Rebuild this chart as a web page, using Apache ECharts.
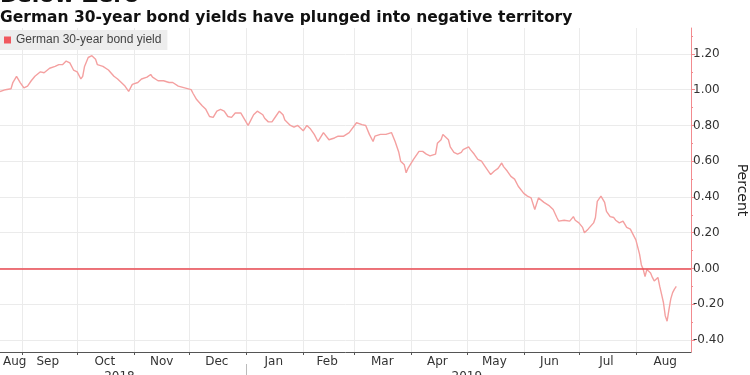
<!DOCTYPE html>
<html>
<head>
<meta charset="utf-8">
<script src="https://cdn.jsdelivr.net/npm/echarts@6.0.0/dist/echarts.min.js"></script>
<style>
  html, body { margin: 0; padding: 0; background: #fff; }
  #chart { width: 750px; height: 375px; }
</style>
</head>
<body>
<div id="chart"></div>
<script>
// German 30-year bond yield (percent)
const dates = [
  "2018-08-20", "2018-08-23", "2018-08-26", "2018-08-27", "2018-08-29", "2018-08-31",
  "2018-09-02", "2018-09-04", "2018-09-06", "2018-09-08", "2018-09-11", "2018-09-13",
  "2018-09-16", "2018-09-19", "2018-09-21", "2018-09-23", "2018-09-25", "2018-09-27",
  "2018-09-29", "2018-10-01", "2018-10-03", "2018-10-04", "2018-10-05", "2018-10-07",
  "2018-10-09", "2018-10-11", "2018-10-12", "2018-10-15", "2018-10-18", "2018-10-21",
  "2018-10-23", "2018-10-25", "2018-10-27", "2018-10-29", "2018-10-31", "2018-11-03",
  "2018-11-05", "2018-11-08", "2018-11-10", "2018-11-11", "2018-11-14", "2018-11-17",
  "2018-11-20", "2018-11-22", "2018-11-25", "2018-11-26", "2018-12-02", "2018-12-03",
  "2018-12-05", "2018-12-08", "2018-12-10", "2018-12-12", "2018-12-14", "2018-12-16",
  "2018-12-18", "2018-12-20", "2018-12-22", "2018-12-24", "2018-12-26", "2018-12-29",
  "2018-12-30", "2019-01-02", "2019-01-03", "2019-01-05", "2019-01-07", "2019-01-10",
  "2019-01-11", "2019-01-13", "2019-01-15", "2019-01-17", "2019-01-19", "2019-01-21",
  "2019-01-22", "2019-01-25", "2019-01-27", "2019-01-29", "2019-02-01", "2019-02-03",
  "2019-02-05", "2019-02-07", "2019-02-09", "2019-02-12", "2019-02-15", "2019-02-18",
  "2019-02-20", "2019-02-23", "2019-02-26", "2019-02-27", "2019-03-02", "2019-03-03",
  "2019-03-05", "2019-03-07", "2019-03-09", "2019-03-11", "2019-03-12", "2019-03-15",
  "2019-03-18", "2019-03-21", "2019-03-23", "2019-03-25", "2019-03-26", "2019-03-28",
  "2019-03-29", "2019-03-30", "2019-04-02", "2019-04-03", "2019-04-05", "2019-04-07",
  "2019-04-09", "2019-04-11", "2019-04-14", "2019-04-15", "2019-04-17", "2019-04-18",
  "2019-04-21", "2019-04-22", "2019-04-24", "2019-04-26", "2019-04-28", "2019-04-29",
  "2019-05-02", "2019-05-03", "2019-05-05", "2019-05-07", "2019-05-09", "2019-05-11",
  "2019-05-14", "2019-05-16", "2019-05-18", "2019-05-20", "2019-05-21", "2019-05-23",
  "2019-05-25", "2019-05-27", "2019-05-29", "2019-06-01", "2019-06-03", "2019-06-05",
  "2019-06-07", "2019-06-09", "2019-06-10", "2019-06-12", "2019-06-15", "2019-06-17",
  "2019-06-19", "2019-06-20", "2019-06-23", "2019-06-26", "2019-06-28", "2019-06-29",
  "2019-07-01", "2019-07-03", "2019-07-04", "2019-07-06", "2019-07-09", "2019-07-10",
  "2019-07-11", "2019-07-13", "2019-07-15", "2019-07-16", "2019-07-18", "2019-07-20",
  "2019-07-21", "2019-07-23", "2019-07-25", "2019-07-27", "2019-07-29", "2019-07-31",
  "2019-08-01", "2019-08-03", "2019-08-04", "2019-08-05", "2019-08-06", "2019-08-07",
  "2019-08-09", "2019-08-10", "2019-08-11", "2019-08-13", "2019-08-14", "2019-08-15",
  "2019-08-16", "2019-08-17", "2019-08-18", "2019-08-19", "2019-08-20", "2019-08-21",
  "2019-08-22", "2019-08-23"
];
const yields = [
  0.99, 1.00, 1.005, 1.04, 1.075, 1.04,
  1.01, 1.02, 1.05, 1.075, 1.10, 1.095,
  1.12, 1.13, 1.14, 1.14, 1.16, 1.15,
  1.11, 1.10, 1.06, 1.075, 1.13, 1.18,
  1.19, 1.17, 1.14, 1.13, 1.11, 1.075,
  1.06, 1.04, 1.02, 0.99, 1.03, 1.04,
  1.06, 1.07, 1.085, 1.07, 1.05, 1.05,
  1.04, 1.04, 1.02, 1.01, 1.00, 0.98,
  0.945, 0.91, 0.89, 0.85, 0.845, 0.88,
  0.89, 0.88, 0.85, 0.845, 0.87, 0.87,
  0.875, 0.80, 0.82, 0.86, 0.88, 0.86,
  0.84, 0.82, 0.82, 0.85, 0.88, 0.86,
  0.83, 0.80, 0.79, 0.80, 0.77, 0.80,
  0.78, 0.75, 0.71, 0.76, 0.72, 0.73,
  0.74, 0.74, 0.76, 0.75, 0.815, 0.82,
  0.805, 0.80, 0.75, 0.71, 0.74, 0.75,
  0.75, 0.76, 0.71, 0.65, 0.60, 0.58,
  0.535, 0.56, 0.61, 0.61, 0.655, 0.655,
  0.64, 0.63, 0.64, 0.70, 0.72, 0.75,
  0.72, 0.68, 0.65, 0.64, 0.65, 0.665,
  0.68, 0.665, 0.64, 0.61, 0.60, 0.57,
  0.525, 0.545, 0.56, 0.59, 0.57, 0.545,
  0.515, 0.50, 0.46, 0.42, 0.405, 0.395,
  0.33, 0.395, 0.385, 0.37, 0.35, 0.33,
  0.285, 0.265, 0.27, 0.265, 0.29, 0.27,
  0.255, 0.23, 0.20, 0.22, 0.255, 0.285,
  0.375, 0.405, 0.37, 0.32, 0.29, 0.285,
  0.27, 0.255, 0.265, 0.23, 0.22, 0.18,
  0.16, 0.08, 0.02, -0.005, -0.045, -0.005,
  -0.025, -0.05, -0.07, -0.05, -0.10, -0.145,
  -0.19, -0.265, -0.295, -0.23, -0.17, -0.135,
  -0.115, -0.10
];

const yTicks = [-0.4, -0.2, 0, 0.2, 0.4, 0.6, 0.8, 1.0, 1.2];
const yMinorTicks = [-0.3, -0.1, 0.1, 0.3, 0.5, 0.7, 0.9, 1.1, 1.3];
const zeroLine = [0];
const monthStarts = [
  "2018-09-01", "2018-10-01", "2018-11-01", "2018-12-01", "2019-01-01", "2019-02-01",
  "2019-03-01", "2019-04-01", "2019-05-01", "2019-06-01", "2019-07-01", "2019-08-01"
];
const monthLabelDates = [
  "2018-08-28", "2018-09-15", "2018-10-16", "2018-11-16", "2018-12-16", "2019-01-16",
  "2019-02-14", "2019-03-16", "2019-04-15", "2019-05-16", "2019-06-15", "2019-07-16",
  "2019-08-17"
];
const monthNames = ["Jan", "Feb", "Mar", "Apr", "May", "Jun", "Jul", "Aug", "Sep", "Oct", "Nov", "Dec"];
const yearLabelDates = ["2018-10-24", "2019-05-01"];
const yearBreaks = ["2019-01-01"];

// dates -> local midnight timestamps, x axis is a plain value axis of timestamps
const ts = s => {
  const p = s.split("-").map(Number);
  return new Date(p[0], p[1] - 1, p[2]).getTime();
};
const font = "DejaVu Sans";

let chart = echarts.init(document.getElementById("chart"));

let option = {
  animation: false,
  backgroundColor: "#fff",
  title: [
    {
      text: "Below Zero",
      left: 0,
      top: -15,
      padding: 0,
      textStyle: { fontFamily: font, fontSize: 22, fontWeight: "bold", color: "#111" }
    },
    {
      text: "German 30-year bond yields have plunged into negative territory",
      left: 0,
      top: 10,
      padding: 0,
      textStyle: { fontFamily: font, fontSize: 15.5, fontWeight: "bold", color: "#111" }
    }
  ],
  legend: {
    left: 0,
    top: 30,
    icon: "rect",
    itemWidth: 7,
    itemHeight: 7,
    itemGap: 4,
    padding: [4, 6, 4, 4],
    backgroundColor: "#ededed",
    textStyle: { fontFamily: "Liberation Sans", fontSize: 12, color: "#444" },
    data: ["German 30-year bond yield"]
  },
  grid: { left: 0, right: 59, top: 28, bottom: 23, outerBoundsMode: "none" },
  xAxis: [
    {
      type: "value",
      min: ts("2018-08-20"),
      max: ts("2019-08-31"),
      axisLine: { onZero: false, lineStyle: { color: "#555" } },
      axisTick: { customValues: monthStarts.map(ts), length: 3, lineStyle: { color: "#555" } },
      axisLabel: {
        customValues: monthLabelDates.map(ts),
        formatter: v => monthNames[new Date(v).getMonth()],
        fontFamily: font,
        fontSize: 12,
        color: "#333",
        margin: 4
      },
      splitLine: { show: true, lineStyle: { color: "#ebebeb" } }
    },
    {
      type: "value",
      position: "bottom",
      offset: 12,
      min: ts("2018-08-20"),
      max: ts("2019-08-31"),
      axisLine: { show: false, onZero: false },
      axisTick: { show: true, customValues: yearBreaks.map(ts), length: 14, lineStyle: { color: "#bbb" } },
      axisLabel: {
        customValues: yearLabelDates.map(ts),
        formatter: v => String(new Date(v).getFullYear()),
        fontFamily: font,
        fontSize: 12,
        color: "#333",
        margin: 7
      },
      splitLine: { show: false }
    }
  ],
  yAxis: [
    {
      type: "value",
      position: "right",
      min: -0.467,
      max: 1.345,
      name: "Percent",
      nameLocation: "middle",
      nameRotate: -90,
      nameGap: 41,
      nameTextStyle: { fontFamily: font, fontSize: 14, color: "#222" },
      axisLine: { show: true, onZero: false, lineStyle: { color: "#f28b8f" } },
      axisTick: { show: true, customValues: yTicks, length: 4, lineStyle: { color: "#f28b8f" } },
      axisLabel: {
        customValues: yTicks,
        formatter: v => v.toFixed(2),
        fontFamily: font,
        fontSize: 12,
        color: "#333",
        margin: 2
      },
      splitLine: { show: true, lineStyle: { color: "#ebebeb" } }
    },
    {
      type: "value",
      position: "right",
      min: -0.467,
      max: 1.345,
      axisLine: { show: false, onZero: false },
      axisTick: { show: true, customValues: yMinorTicks, length: 2, lineStyle: { color: "#f28b8f" } },
      axisLabel: { show: false },
      splitLine: { show: false }
    }
  ],
  series: [
    {
      name: "German 30-year bond yield",
      type: "line",
      xAxisIndex: 0,
      yAxisIndex: 0,
      showSymbol: false,
      itemStyle: { color: "#f0585e" },
      lineStyle: { color: "#f4a0a0", width: 1.4 },
      data: dates.map((d, i) => [ts(d), yields[i]]),
      markLine: {
        silent: true,
        symbol: "none",
        label: { show: false },
        lineStyle: { color: "#ea4850", width: 1.5, type: "solid" },
        data: zeroLine.map(v => ({ yAxis: v }))
      }
    }
  ]
};

chart.setOption(option);
</script>
</body>
</html>
